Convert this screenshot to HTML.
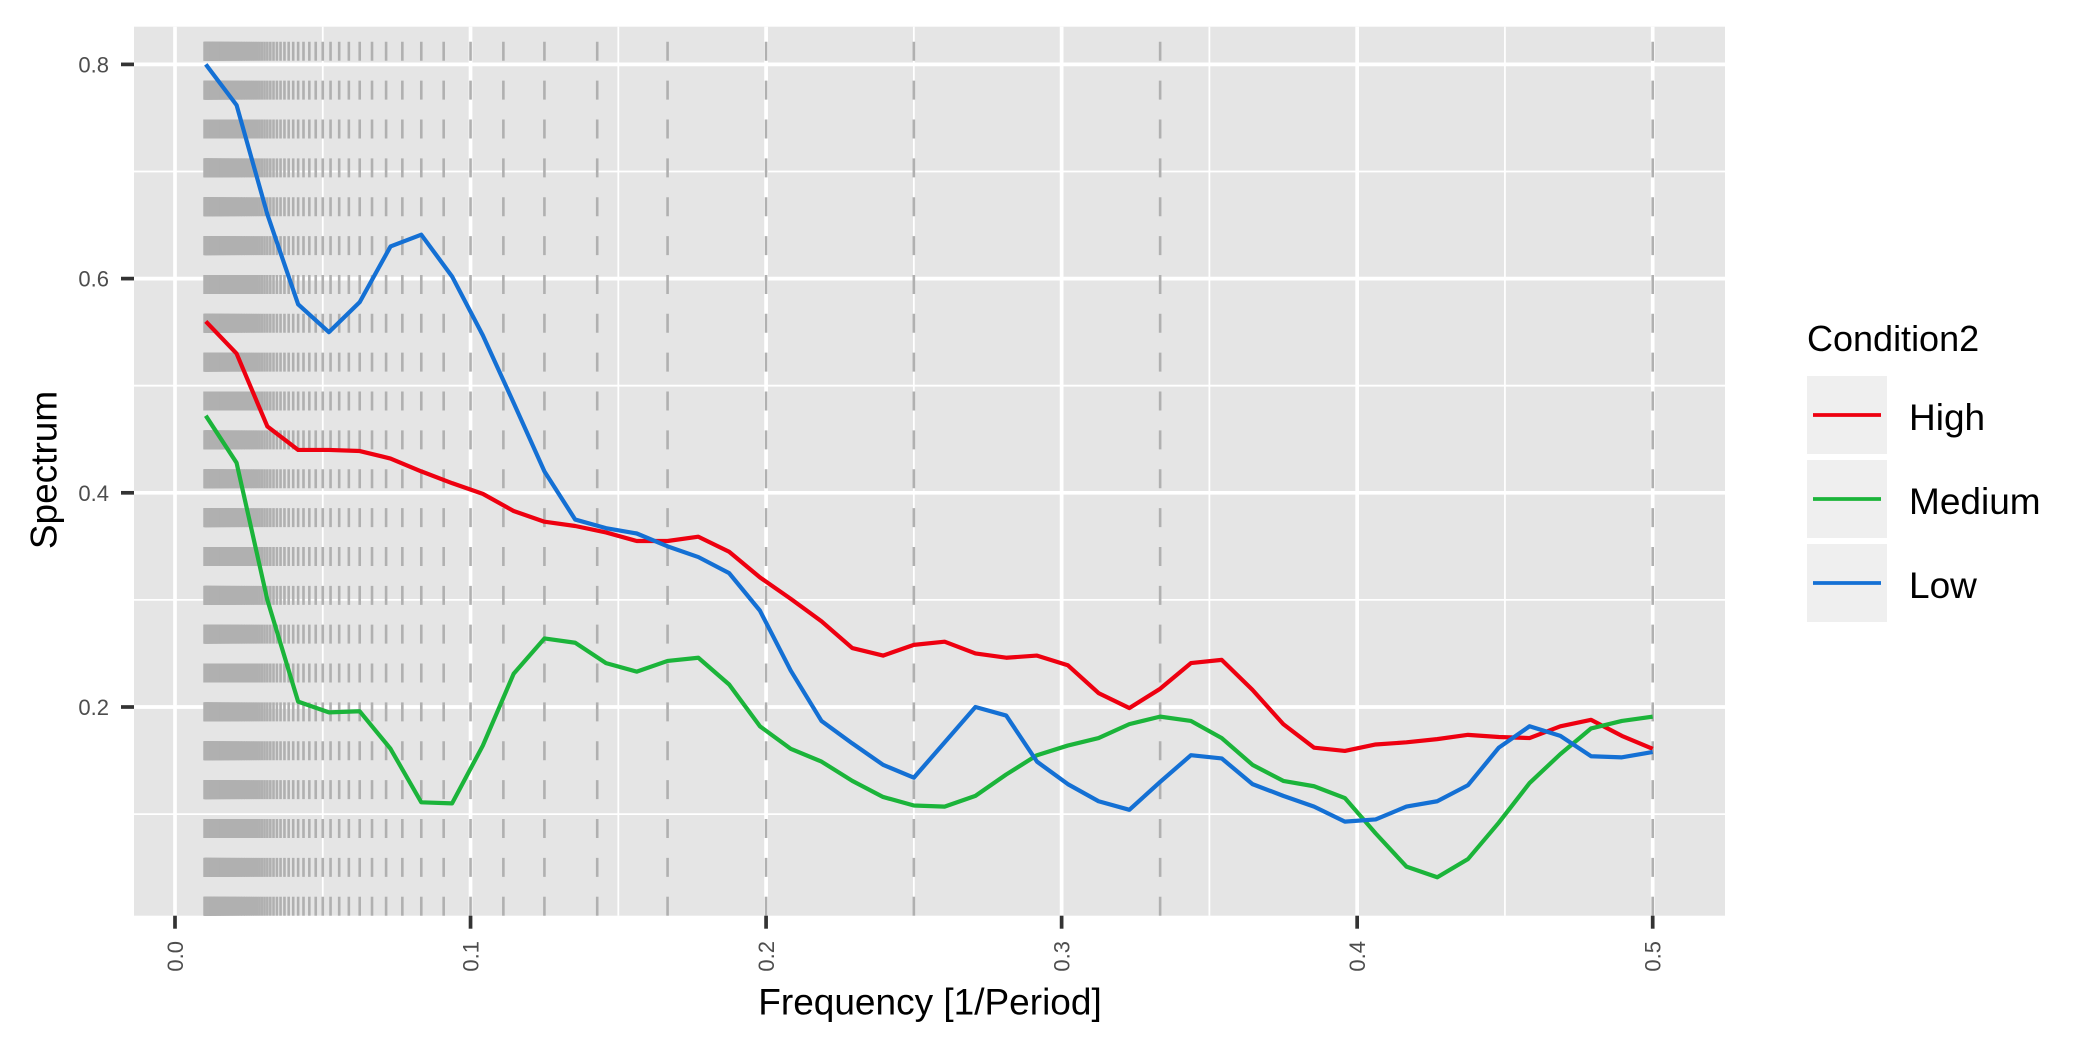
<!DOCTYPE html>
<html><head><meta charset="utf-8"><style>
html,body{margin:0;padding:0;background:#fff;}
svg{display:block;font-family:"Liberation Sans",Arial,sans-serif;}
</style></head><body>
<svg id="chart" width="2100" height="1050" viewBox="0 0 2100 1050">
<rect x="0" y="0" width="2100" height="1050" fill="#fff"/>
<rect x="134" y="26.7" width="1591" height="889" fill="#e5e5e5"/>
<g id="grid"></g><g id="vlines"></g><g id="series"></g><g id="axes"></g>
<text x="44" y="470" transform="rotate(-90 44 470)" text-anchor="middle" dominant-baseline="central" font-size="37" fill="#000">Spectrum</text>
<text x="930" y="1002" text-anchor="middle" dominant-baseline="central" font-size="37" fill="#000">Frequency [1/Period]</text>
<g>
<text x="1807" y="351" font-size="36" fill="#000">Condition2</text>
<g><rect x="1807" y="376" width="80" height="78" fill="#efefef"/><line x1="1813" x2="1881" y1="415" y2="415" stroke="#ee0010" stroke-width="3.8"/><text x="1909" y="430" font-size="37">High</text></g>
<g><rect x="1807" y="460" width="80" height="78" fill="#efefef"/><line x1="1813" x2="1881" y1="499" y2="499" stroke="#1bb43a" stroke-width="3.8"/><text x="1909" y="514" font-size="37">Medium</text></g>
<g><rect x="1807" y="544" width="80" height="78" fill="#efefef"/><line x1="1813" x2="1881" y1="583" y2="583" stroke="#1470d4" stroke-width="3.8"/><text x="1909" y="598" font-size="37">Low</text></g>
</g>
</svg>
<script>
const freqIndex = [1,2,3,4,5,6,7,8,9,10,11,12,13,14,15,16,17,18,19,20,21,22,23,24,25,26,27,28,29,30,31,32,33,34,35,36,37,38,39,40,41,42,43,44,45,46,47,48];
const highVals = [0.56,0.53,0.462,0.44,0.44,0.439,0.432,0.42,0.409,0.399,0.383,0.373,0.369,0.363,0.355,0.355,0.359,0.345,0.321,0.301,0.28,0.255,0.248,0.258,0.261,0.25,0.246,0.248,0.239,0.213,0.199,0.217,0.241,0.244,0.216,0.184,0.162,0.159,0.165,0.167,0.17,0.174,0.172,0.171,0.182,0.188,0.173,0.161];
const mediumVals = [0.472,0.428,0.30,0.205,0.195,0.196,0.161,0.111,0.11,0.164,0.231,0.264,0.26,0.241,0.233,0.243,0.246,0.221,0.182,0.161,0.149,0.131,0.116,0.108,0.107,0.117,0.137,0.155,0.164,0.171,0.184,0.191,0.187,0.171,0.146,0.131,0.126,0.115,0.082,0.051,0.041,0.058,0.092,0.129,0.156,0.18,0.187,0.191];
const lowVals = [0.80,0.762,0.66,0.576,0.55,0.578,0.63,0.641,0.602,0.547,0.484,0.42,0.375,0.367,0.362,0.35,0.34,0.325,0.29,0.234,0.187,0.166,0.146,0.134,0.167,0.20,0.192,0.149,0.128,0.112,0.104,0.130,0.155,0.152,0.128,0.117,0.107,0.093,0.095,0.107,0.112,0.127,0.162,0.182,0.173,0.154,0.153,0.158];
const xTicks = [0,0.1,0.2,0.3,0.4,0.5];
const xTickLabels = ["0.0","0.1","0.2","0.3","0.4","0.5"];
const yTicks = [0.2,0.4,0.6,0.8];
const yTickLabels = ["0.2","0.4","0.6","0.8"];
const periods = [];
for (let k = 2; k <= 100; k++) periods.push(k);

const NS = "http://www.w3.org/2000/svg";
const L = 134, R = 1725, T = 26.7, B = 915.7;
function xs(f){ return 175 + f * 2955.4; }
function ys(v){ return 64.4 + (0.8 - v) * 1071; }
function mk(tag, attrs, parent){ const e = document.createElementNS(NS, tag); for (const k in attrs) e.setAttribute(k, attrs[k]); parent.appendChild(e); return e; }

const grid = document.getElementById('grid');
[0.1,0.3,0.5,0.7].forEach(v => { const l = mk('line',{x1:L,x2:R,y1:ys(v),y2:ys(v),stroke:'#fff','stroke-width':1.8},grid);

 });
[0.05,0.15,0.25,0.35,0.45].forEach(f => { const l = mk('line',{x1:xs(f),x2:xs(f),y1:T,y2:B,stroke:'#fff','stroke-width':1.8},grid);

 });
yTicks.forEach(v => { const l = mk('line',{x1:L,x2:R,y1:ys(v),y2:ys(v),stroke:'#fff','stroke-width':3.7},grid);

 });
xTicks.forEach(f => { const l = mk('line',{x1:xs(f),x2:xs(f),y1:T,y2:B,stroke:'#fff','stroke-width':3.7},grid);

 });

const vl = document.getElementById('vlines');
periods.forEach(k => { const x = xs(1/k); const l = mk('line',{x1:x,x2:x,y1:B,y2:T,stroke:'#b0b0b0','stroke-width':2.6,'stroke-dasharray':'19 19.86'},vl);

 });

const sg = document.getElementById('series');
[[highVals,'#ee0010','high'],[mediumVals,'#1bb43a','medium'],[lowVals,'#1470d4','low']].forEach(([vals,col,nm]) => {
  const pts = freqIndex.map((n,i) => xs(n/96).toFixed(2)+','+ys(vals[i]).toFixed(2)).join(' ');
  const p = mk('polyline',{points:pts,fill:'none',stroke:col,'stroke-width':4.2,'stroke-linejoin':'round'},sg);
  
  
});

const ax = document.getElementById('axes');
xTicks.forEach((f,i) => {
  const x = xs(f);
  const t = mk('line',{x1:x,x2:x,y1:B,y2:B+13,stroke:'#333','stroke-width':3.7},ax);
  
  
  const tx = mk('text',{transform:`translate(${x+8},941) rotate(-90)`,'text-anchor':'end','font-size':22,fill:'#4d4d4d'},ax);
  tx.textContent = xTickLabels[i];
  
  
});
yTicks.forEach((v,i) => {
  const y = ys(v);
  const t = mk('line',{x1:L-13,x2:L,y1:y,y2:y,stroke:'#333','stroke-width':3.7},ax);
  
  
  const tx = mk('text',{x:109,y:y+8,'text-anchor':'end','font-size':22,fill:'#4d4d4d'},ax);
  tx.textContent = yTickLabels[i];
  
  
});
</script>
</body></html>
